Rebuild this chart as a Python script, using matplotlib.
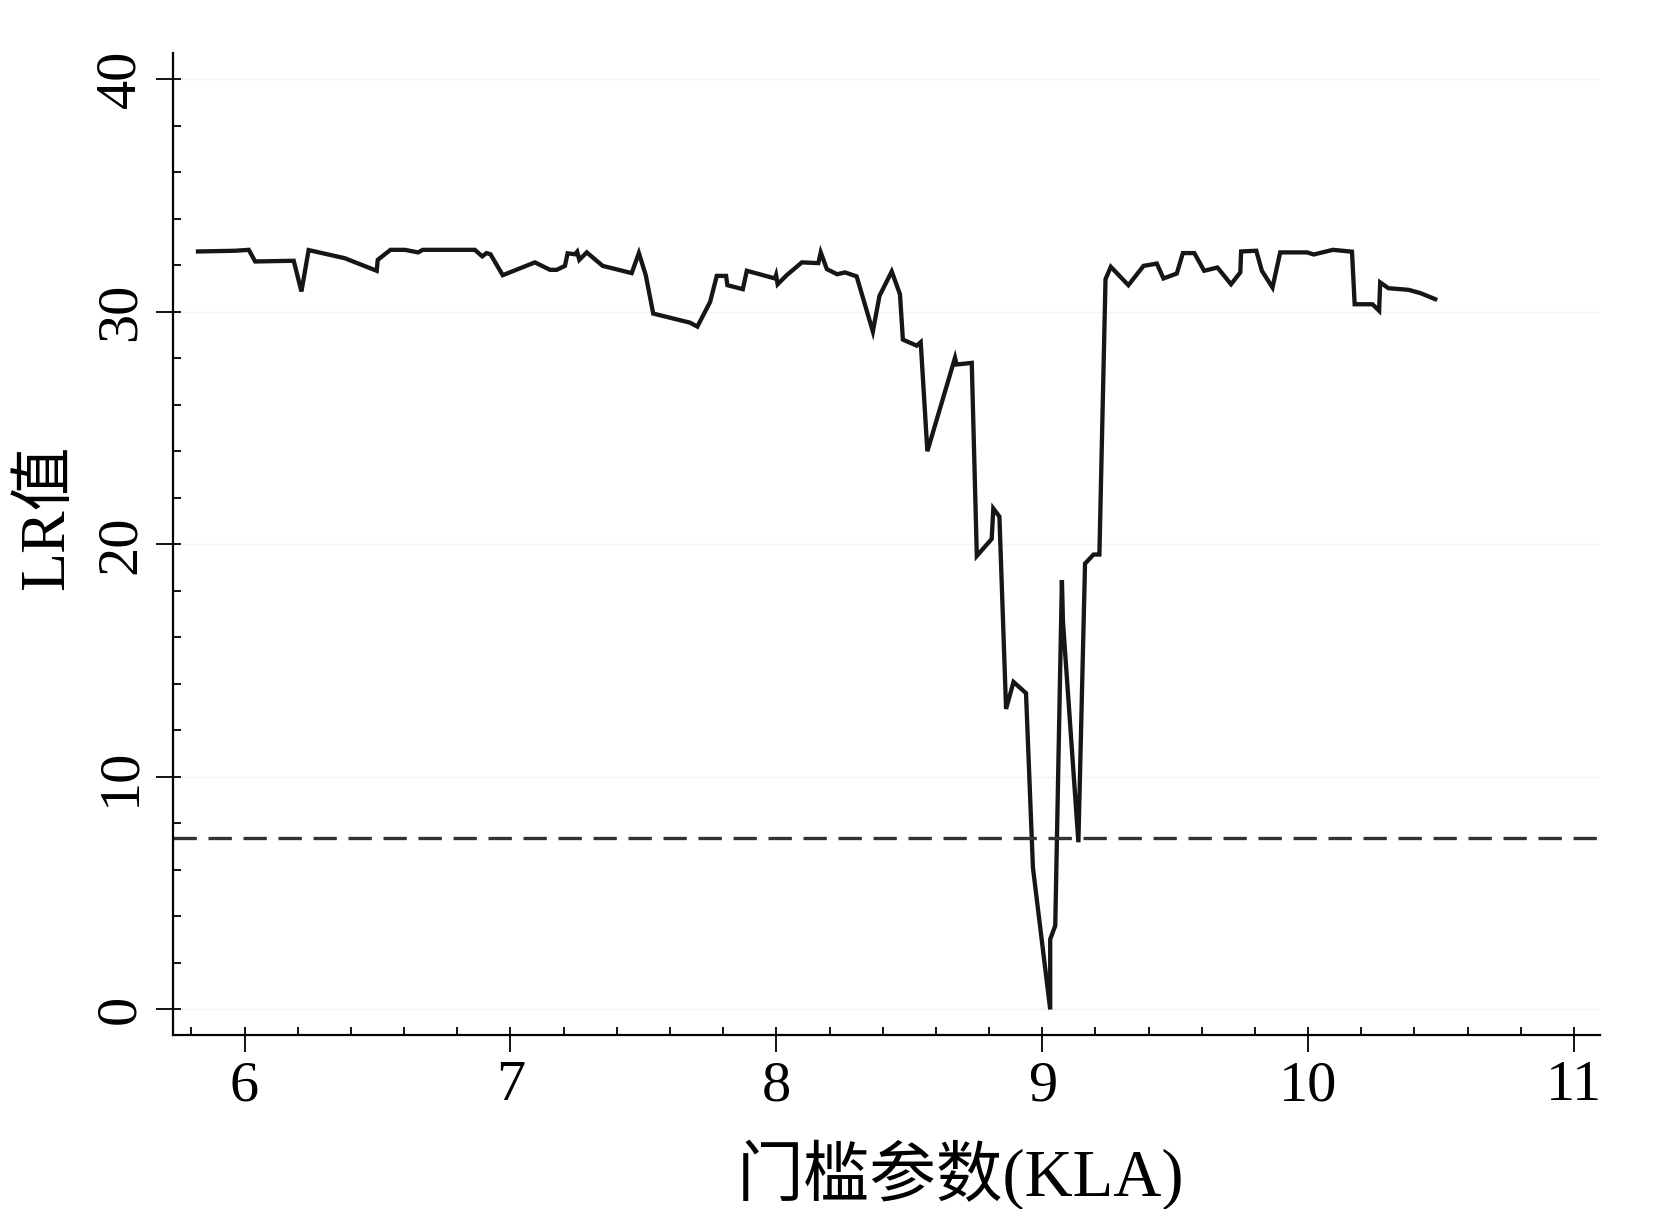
"""LR statistic versus threshold parameter (KLA), Stata-style line plot."""

import matplotlib
matplotlib.use("Agg")
import matplotlib.pyplot as plt
from matplotlib.ticker import MultipleLocator

plt.rcParams["font.family"] = ["Liberation Serif", "Noto Sans CJK SC"]

# --- data ---
kla = [
    5.825, 5.964, 6.016, 6.040, 6.185, 6.214, 6.241, 6.377, 6.497, 6.501,
    6.549, 6.603, 6.653, 6.670, 6.866, 6.894, 6.910, 6.925, 6.971, 7.092,
    7.149, 7.174, 7.205, 7.215, 7.243, 7.251, 7.259, 7.287, 7.347, 7.456,
    7.483, 7.509, 7.537, 7.675, 7.703, 7.751, 7.776, 7.811, 7.816, 7.874,
    7.889, 7.995, 7.999, 8.005, 8.039, 8.096, 8.158, 8.167, 8.190, 8.229,
    8.258, 8.302, 8.363, 8.388, 8.434, 8.465, 8.476, 8.528, 8.543, 8.568,
    8.672, 8.678, 8.735, 8.754, 8.810, 8.816, 8.839, 8.864, 8.892, 8.939,
    8.965, 9.030, 9.030, 9.049, 9.074, 9.078, 9.136, 9.161, 9.193, 9.215,
    9.238, 9.258, 9.324, 9.381, 9.431, 9.456, 9.506, 9.529, 9.572, 9.609,
    9.659, 9.710, 9.745, 9.748, 9.805, 9.826, 9.866, 9.895, 9.996, 10.021,
    10.093, 10.165, 10.175, 10.242, 10.267, 10.271, 10.302, 10.378, 10.422, 10.478,
]
lr = [
    32.59, 32.62, 32.66, 32.16, 32.19, 30.87, 32.65, 32.30, 31.76, 32.23,
    32.66, 32.66, 32.55, 32.66, 32.66, 32.38, 32.52, 32.47, 31.57, 32.12,
    31.80, 31.80, 31.97, 32.51, 32.47, 32.58, 32.23, 32.55, 31.97, 31.66,
    32.52, 31.57, 29.92, 29.53, 29.36, 30.42, 31.54, 31.54, 31.14, 30.97,
    31.76, 31.43, 31.57, 31.18, 31.57, 32.12, 32.09, 32.55, 31.83, 31.61,
    31.69, 31.52, 29.15, 30.68, 31.73, 30.75, 28.80, 28.54, 28.69, 24.00,
    28.02, 27.73, 27.80, 19.50, 20.23, 21.54, 21.19, 12.92, 14.08, 13.60,
    6.10, 0.00, 3.02, 3.60, 18.46, 16.67, 7.19, 19.17, 19.56, 19.56,
    31.40, 31.93, 31.14, 31.97, 32.07, 31.43, 31.64, 32.52, 32.52, 31.76,
    31.90, 31.18, 31.69, 32.59, 32.62, 31.76, 31.04, 32.55, 32.55, 32.46,
    32.66, 32.58, 30.32, 30.32, 30.04, 31.26, 31.01, 30.94, 30.80, 30.54,
]
critical_value = 7.35  # 95% critical value

x_ticks = [6, 7, 8, 9, 10, 11]
y_ticks = [0, 10, 20, 30, 40]

fig = plt.figure(figsize=(16.54, 12.09), dpi=100)
ax = fig.add_axes([0.1046, 0.1439, 0.8628, 0.8122])

ax.plot(kla, lr, color="#161616", lw=3.1, solid_joinstyle="miter")
ax.axhline(critical_value, color="#333333", lw=2.4, linestyle=(0, (7, 3.5)))

ax.set_xlim(5.731, 11.098)
ax.set_ylim(-1.10, 41.12)

for side in ("top", "right"):
    ax.spines[side].set_visible(False)
for side in ("left", "bottom"):
    ax.spines[side].set_linewidth(1.6)
    ax.spines[side].set_color("black")

ax.set_xticks(x_ticks)
ax.set_yticks(y_ticks)
ax.xaxis.set_minor_locator(MultipleLocator(0.2))
ax.yaxis.set_minor_locator(MultipleLocator(2))
ax.xaxis.remove_overlapping_locs = False
ax.yaxis.remove_overlapping_locs = False

ax.tick_params(which="major", direction="out", length=12, width=1.3,
               labelsize=42, color="black")
ax.tick_params(which="minor", direction="in", length=6, width=1.3,
               color="black")
ax.tick_params(axis="x", which="major", pad=6)
ax.tick_params(axis="y", which="major", pad=7, labelrotation=90)
for lab in ax.get_yticklabels():
    lab.set_va("center")

# faint horizontal grid
ax.yaxis.grid(True, which="major", color="#f3f3f3", lw=1.0)
ax.set_axisbelow(True)

ax.set_xlabel("门槛参数(KLA)", fontsize=48)
ax.xaxis.set_label_coords(0.5515, -0.106)
ax.xaxis.label.set_va("top")
ax.set_ylabel("LR值", fontsize=46)
ax.yaxis.set_label_coords(-0.0673, 0.5275)

fig.savefig("out.png", dpi=100, facecolor="white")
